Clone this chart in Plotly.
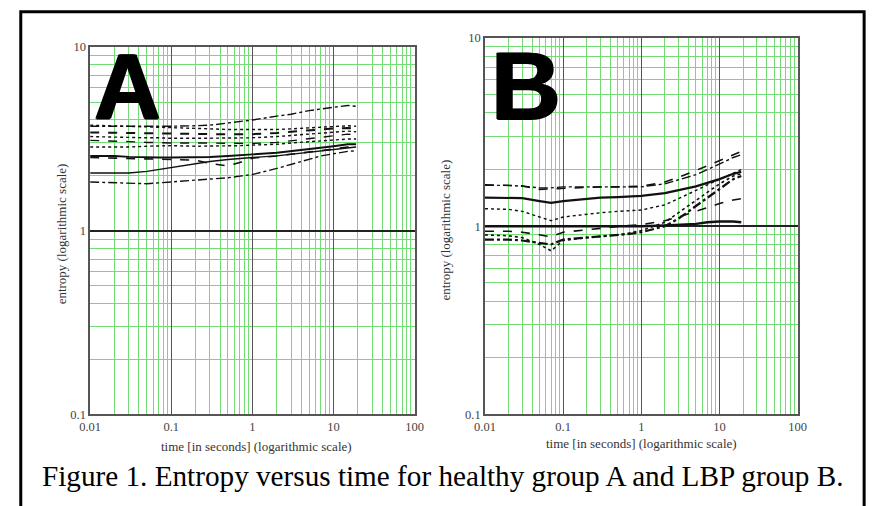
import plotly.graph_objects as go

# ---------------- data ----------------
t = [0.01, 0.02, 0.03, 0.05, 0.07, 0.1, 0.2, 0.3, 0.5, 0.7, 1, 2, 3, 5, 7, 10, 15, 19]

# Panel A : healthy group
a1 = [3.7, 3.7, 3.68, 3.68, 3.7, 3.7, 3.72, 3.75, 3.85, 3.92, 4.0, 4.2, 4.3, 4.5, 4.6, 4.7, 4.8, 4.75]
a2 = [3.75, 3.72, 3.7, 3.65, 3.65, 3.62, 3.6, 3.58, 3.55, 3.55, 3.52, 3.55, 3.58, 3.62, 3.65, 3.68, 3.72, 3.7]
a3 = [3.42, 3.4, 3.4, 3.38, 3.38, 3.36, 3.35, 3.35, 3.35, 3.35, 3.35, 3.4, 3.45, 3.5, 3.55, 3.6, 3.62, 3.6]
a4 = [3.25, 3.22, 3.2, 3.2, 3.2, 3.18, 3.18, 3.18, 3.18, 3.2, 3.2, 3.25, 3.3, 3.35, 3.4, 3.45, 3.48, 3.45]
a5 = [3.1, 3.08, 3.05, 3.02, 3.0, 3.0, 3.0, 3.0, 2.98, 2.98, 2.98, 3.02, 3.08, 3.15, 3.2, 3.28, 3.35, 3.32]
a6 = [2.85, 2.85, 2.85, 2.88, 2.9, 2.9, 2.88, 2.88, 2.9, 2.9, 2.92, 2.95, 3.0, 3.05, 3.1, 3.12, 3.15, 3.15]
a7 = [2.55, 2.55, 2.52, 2.5, 2.5, 2.5, 2.5, 2.52, 2.55, 2.58, 2.6, 2.65, 2.7, 2.78, 2.83, 2.88, 2.95, 2.95]
a8 = [2.5, 2.48, 2.47, 2.46, 2.45, 2.45, 2.42, 2.32, 2.25, 2.35, 2.48, 2.55, 2.6, 2.68, 2.72, 2.78, 2.85, 2.85]
a9 = [2.06, 2.06, 2.06, 2.1, 2.15, 2.22, 2.32, 2.38, 2.44, 2.48, 2.5, 2.55, 2.6, 2.66, 2.7, 2.76, 2.82, 2.85]
a10 = [1.84, 1.83, 1.82, 1.8, 1.82, 1.84, 1.87, 1.9, 1.94, 1.98, 2.02, 2.18, 2.3, 2.45, 2.55, 2.62, 2.7, 2.72]

# Panel B : LBP group
b1 = [1.66, 1.65, 1.64, 1.57, 1.58, 1.6, 1.62, 1.62, 1.62, 1.62, 1.63, 1.72, 1.82, 1.98, 2.1, 2.25, 2.42, 2.5]
b2 = [1.65, 1.65, 1.63, 1.6, 1.6, 1.62, 1.62, 1.62, 1.62, 1.62, 1.62, 1.68, 1.76, 1.88, 2.0, 2.14, 2.32, 2.4]
b3 = [1.42, 1.42, 1.41, 1.36, 1.33, 1.36, 1.4, 1.42, 1.43, 1.44, 1.45, 1.5, 1.55, 1.63, 1.7, 1.78, 1.9, 1.95]
b4 = [1.24, 1.23, 1.2, 1.12, 1.07, 1.12, 1.16, 1.18, 1.2, 1.21, 1.22, 1.3, 1.4, 1.55, 1.66, 1.78, 1.92, 2.0]
b5 = [1.0, 1.0, 1.0, 1.0, 1.0, 1.0, 1.0, 1.0, 1.0, 1.0, 1.0, 1.01, 1.02, 1.03, 1.05, 1.06, 1.06, 1.05]
b6 = [0.94, 0.94, 0.93, 0.9, 0.88, 0.93, 0.96, 0.98, 1.0, 1.01, 1.02, 1.07, 1.12, 1.2, 1.26, 1.32, 1.38, 1.4]
b7 = [0.85, 0.85, 0.84, 0.82, 0.8, 0.85, 0.87, 0.88, 0.9, 0.91, 0.93, 1.0, 1.1, 1.28, 1.42, 1.58, 1.78, 1.85]
b8 = [0.9, 0.89, 0.87, 0.8, 0.74, 0.84, 0.87, 0.88, 0.9, 0.92, 0.95, 1.05, 1.18, 1.38, 1.52, 1.68, 1.85, 1.9]

x_decades = [0.01, 0.1, 1, 10, 100]
x_decade_labels = ["0.01", "0.1", "1", "10", "100"]
y_decades = [0.1, 1, 10]
y_decade_labels = ["0.1", "1", "10"]

caption = "Figure 1. Entropy versus time for healthy group A and LBP group B."
x_title = "time [in seconds] (logarithmic scale)"
y_title = "entropy (logarithmic scale)"

# ---------------- figure ----------------
W, H = 879, 506
fig = go.Figure()

panelA = [(a1, "dashdot", 1.4), (a2, "dot", 1.4), (a3, "dash", 2.0), (a4, "dot", 1.4),
          (a5, "dash", 1.4), (a6, "dot", 1.4), (a7, "solid", 2.0), (a8, "dash", 1.6),
          (a9, "solid", 1.4), (a10, "dashdot", 1.4)]
panelB = [(b1, "dash", 1.6), (b2, "dashdot", 1.4), (b3, "solid", 2.2), (b4, "dot", 1.4),
          (b5, "solid", 2.4), (b6, "dash", 1.6), (b7, "dashdot", 2.2), (b8, "dot", 1.6)]

for vals, dash, w in panelA:
    fig.add_trace(go.Scatter(x=t, y=vals, mode="lines", xaxis="x", yaxis="y",
                             line=dict(color="#111111", dash=dash, width=w),
                             showlegend=False, hoverinfo="skip"))
for vals, dash, w in panelB:
    fig.add_trace(go.Scatter(x=t, y=vals, mode="lines", xaxis="x2", yaxis="y2",
                             line=dict(color="#111111", dash=dash, width=w),
                             showlegend=False, hoverinfo="skip"))


def minor_vals(decades):
    return [m * d for d in decades[:-1] for m in range(2, 10)]


tickfont = dict(family="Liberation Serif", size=12.5, color="#444444")
GREEN = "#74dc74"


def xaxis(domain, anchor):
    return dict(type="log", range=[-2, 2], domain=domain, anchor=anchor,
                tickmode="array", tickvals=x_decades, ticktext=x_decade_labels, tickfont=tickfont,
                showgrid=True, gridcolor="#555555", gridwidth=1.3,
                minor=dict(tickmode="array", tickvals=minor_vals(x_decades), showgrid=True,
                           gridcolor=GREEN, gridwidth=1, ticks=""),
                showline=True, linecolor="#555555", linewidth=1.5, mirror=True,
                ticks="", zeroline=False)


def yaxis(domain, anchor):
    return dict(type="log", range=[-1, 1], domain=domain, anchor=anchor,
                tickmode="array", tickvals=y_decades, ticktext=y_decade_labels, tickfont=tickfont,
                showgrid=True, gridcolor="#222222", gridwidth=1.5,
                minor=dict(tickmode="array", tickvals=minor_vals(y_decades), showgrid=True,
                           gridcolor=GREEN, gridwidth=1, ticks=""),
                showline=True, linecolor="#555555", linewidth=1.5, mirror=True,
                ticks="", zeroline=False)


fig.update_layout(
    width=W, height=H,
    margin=dict(l=0, r=0, t=0, b=0),
    paper_bgcolor="white", plot_bgcolor="white",
    xaxis=xaxis([81 / W, 413 / W], "y"),
    yaxis=yaxis([1 - 419 / H, 1 - 41 / H], "x"),
    xaxis2=xaxis([485 / W, 805 / W], "y2"),
    yaxis2=yaxis([1 - 419 / H, 1 - 32 / H], "x2"),
)

title_font = dict(family="Liberation Serif", size=13, color="#333333")
heavy = "1.5px 0px 0px black, -1px 0px 0px black, 0px 1px 0px black"
annotations = [
    dict(text="<b>A</b>", x=119 / W, y=1 - 81 / H, xref="paper", yref="paper",
         xanchor="center", yanchor="middle", showarrow=False,
         font=dict(family="Liberation Sans", size=92, color="black", shadow=heavy)),
    dict(text="<b>B</b>", x=526 / W, y=1 - 81 / H, xref="paper", yref="paper",
         xanchor="center", yanchor="middle", showarrow=False,
         font=dict(family="Liberation Sans", size=96, color="black", shadow=heavy)),
    dict(text=y_title, x=52 / W, y=1 - 233 / H, xref="paper", yref="paper", textangle=-90,
         showarrow=False, font=title_font, xanchor="center", yanchor="middle"),
    dict(text=y_title, x=445 / W, y=1 - 229 / H, xref="paper", yref="paper", textangle=-90,
         showarrow=False, font=title_font, xanchor="center", yanchor="middle"),
    dict(text=x_title, x=251 / W, y=1 - 452 / H, xref="paper", yref="paper",
         showarrow=False, font=title_font, xanchor="center", yanchor="middle"),
    dict(text=x_title, x=645 / W, y=1 - 449 / H, xref="paper", yref="paper",
         showarrow=False, font=title_font, xanchor="center", yanchor="middle"),
    dict(text=caption, x=30 / W, y=1 - 482 / H, xref="paper", yref="paper",
         showarrow=False, font=dict(family="Liberation Serif", size=29.2, color="black"),
         xanchor="left", yanchor="middle"),
]
fig.update_layout(annotations=annotations)

# outer frame of the figure
fig.add_shape(type="rect", xref="paper", yref="paper", x0=10 / W, x1=873 / W, y0=-0.05, y1=1 - 5 / H,
              line=dict(color="black", width=3), fillcolor="rgba(0,0,0,0)", layer="above")

fig.write_html("out.html", config={"displayModeBar": False},
               post_script="document.body.style.margin='0px';")
